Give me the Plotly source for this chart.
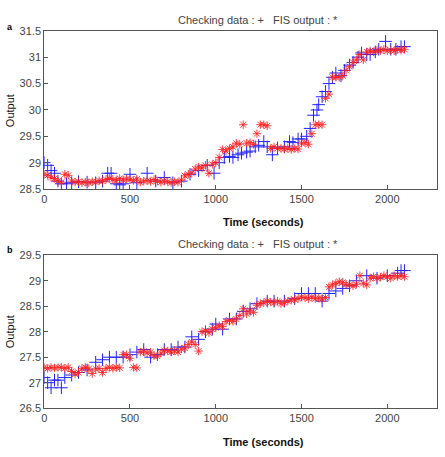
import plotly.graph_objects as go

# ---------------- data ----------------
time_red = list(range(0, 2101, 20))

fis_a = [28.78, 28.76, 28.72, 28.70, 28.65, 28.63, 28.78, 28.76, 28.65, 28.63,
         28.64, 28.62, 28.63, 28.62, 28.64, 28.63, 28.66, 28.65, 28.68, 28.70,
         28.68, 28.66, 28.70, 28.67, 28.69, 28.68, 28.66, 28.69, 28.63, 28.65,
         28.66, 28.64, 28.68, 28.65, 28.63, 28.65, 28.64, 28.62, 28.64, 28.63,
         28.67, 28.75, 28.78, 28.80, 28.88, 28.92, 28.90, 28.95, 28.80, 28.97,
         29.00, 29.10, 29.25, 29.22, 29.27, 29.30, 29.37, 29.35, 29.72, 29.37,
         29.38, 29.35, 29.55, 29.72, 29.72, 29.70, 29.27, 29.30, 29.27, 29.27,
         29.26, 29.27, 29.25, 29.27, 29.26, 29.37, 29.38, 29.35, 29.55, 29.72,
         29.72, 29.72, 30.22, 30.30, 30.62, 30.62, 30.62, 30.65, 30.75, 30.82,
         30.90, 30.95, 31.05, 30.95, 31.10, 31.12, 31.10, 31.13, 31.12, 31.15,
         31.12, 31.13, 31.12, 31.15, 31.13, 31.15]

fis_b = [27.30, 27.28, 27.30, 27.29, 27.30, 27.30, 27.28, 27.30, 27.22, 27.17,
         27.20, 27.28, 27.30, 27.27, 27.18, 27.27, 27.28, 27.20, 27.28, 27.30,
         27.28, 27.30, 27.29, 27.55, 27.55, 27.48, 27.30, 27.29, 27.60, 27.62,
         27.58, 27.60, 27.53, 27.52, 27.58, 27.63, 27.62, 27.60, 27.63, 27.60,
         27.66, 27.68, 27.75, 27.80, 27.75, 27.62, 28.00, 28.02, 27.98, 28.05,
         28.08, 28.12, 28.10, 28.20, 28.22, 28.20, 28.25, 28.32, 28.45, 28.35,
         28.42, 28.38, 28.52, 28.55, 28.57, 28.60, 28.58, 28.57, 28.60, 28.55,
         28.57, 28.60, 28.62, 28.63, 28.65, 28.68, 28.67, 28.65, 28.68, 28.65,
         28.66, 28.64, 28.67, 28.88, 28.92, 28.95, 28.98, 28.97, 28.93, 28.92,
         28.90, 28.93, 29.10, 28.95, 28.92, 29.05, 29.08, 29.05, 29.07, 29.10,
         29.08, 29.05, 29.10, 29.08, 29.10, 29.08]

time_chk_a = [0, 20, 40, 60, 80, 100, 130, 160, 200, 250, 300, 340, 370, 390,
              420, 440, 460, 500, 540, 600, 650, 700, 750, 800, 850, 900, 950,
              990, 1020, 1050, 1080, 1100, 1130, 1150, 1180, 1200, 1230, 1250,
              1280, 1300, 1330, 1360, 1400, 1430, 1450, 1480, 1500, 1530, 1550,
              1570, 1590, 1600, 1620, 1640, 1660, 1680, 1700, 1730, 1750, 1780,
              1800, 1830, 1850, 1880, 1900, 1930, 1950, 1990, 2020, 2050, 2080, 2100]
chk_a = [29.00, 28.95, 28.85, 28.80, 28.65, 28.60, 28.60, 28.62, 28.64, 28.63,
         28.62, 28.65, 28.80, 28.80, 28.60, 28.58, 28.60, 28.78, 28.62, 28.80,
         28.65, 28.72, 28.62, 28.65, 28.78, 28.85, 28.95, 28.80, 29.00, 29.10,
         29.12, 29.10, 29.15, 29.18, 29.20, 29.22, 29.30, 29.33, 29.40, 29.30,
         29.15, 29.28, 29.30, 29.40, 29.38, 29.45, 29.45, 29.50, 29.65, 29.90,
         30.00, 30.10, 30.25, 30.35, 30.50, 30.62, 30.70, 30.65, 30.75, 30.85,
         30.90, 31.00, 31.08, 31.05, 31.05, 31.10, 31.15, 31.30, 31.15, 31.15,
         31.20, 31.20]

time_chk_b = [0, 20, 40, 60, 80, 100, 120, 160, 200, 250, 300, 340, 380, 420,
              460, 500, 540, 580, 620, 660, 700, 740, 780, 820, 860, 900, 940,
              980, 1000, 1040, 1080, 1120, 1160, 1200, 1240, 1300, 1340, 1400,
              1460, 1500, 1540, 1580, 1620, 1660, 1700, 1740, 1780, 1820, 1880,
              1940, 2000, 2060, 2080, 2100]
chk_b = [27.10, 27.00, 26.90, 27.05, 27.05, 26.90, 27.10, 27.15, 27.20, 27.25,
         27.40, 27.45, 27.50, 27.50, 27.50, 27.55, 27.60, 27.65, 27.50, 27.55,
         27.65, 27.65, 27.70, 27.70, 27.90, 27.85, 28.00, 28.05, 28.15, 28.05,
         28.25, 28.25, 28.40, 28.45, 28.55, 28.60, 28.60, 28.60, 28.65, 28.75,
         28.75, 28.75, 28.60, 28.75, 28.80, 28.85, 28.90, 29.00, 29.10, 29.05,
         29.10, 29.15, 29.20, 29.20]

title_text = "Checking data : +   FIS output : *"

# ---------------- figure ----------------
W, H = 445, 457
fig = go.Figure()

def px_x(p):
    return p / W

def px_y(p):
    return 1 - p / H

blue_marker = dict(symbol="cross-thin-open", size=9, color="#2222ff",
                   line=dict(color="#2222ff", width=1.0))
red_marker = dict(symbol="asterisk-open", size=7, color="#ff2020",
                  line=dict(color="#ff2020", width=0.85))

fig.add_trace(go.Scatter(x=time_chk_a, y=chk_a, mode="markers", marker=blue_marker,
                         xaxis="x", yaxis="y", showlegend=False))
fig.add_trace(go.Scatter(x=time_red, y=fis_a, mode="markers", marker=red_marker,
                         xaxis="x", yaxis="y", showlegend=False))
fig.add_trace(go.Scatter(x=time_chk_b, y=chk_b, mode="markers", marker=blue_marker,
                         xaxis="x2", yaxis="y2", showlegend=False))
fig.add_trace(go.Scatter(x=time_red, y=fis_b, mode="markers", marker=red_marker,
                         xaxis="x2", yaxis="y2", showlegend=False))

xdom = [px_x(41.5), px_x(437)]
tickfont = dict(family="Liberation Sans, Arial, sans-serif", size=11, color="#444444")
common_x = dict(range=[0, 2290], tickvals=[0, 500, 1000, 1500, 2000], ticks="inside",
                ticklen=4, tickcolor="#555555", showline=True, linecolor="#555555",
                linewidth=1, mirror=True, showgrid=False, zeroline=False,
                tickfont=tickfont, domain=xdom)
common_y = dict(dtick=0.5, ticks="inside", ticklen=4, tickcolor="#555555",
                showline=True, linecolor="#555555", linewidth=1, mirror=True,
                showgrid=False, zeroline=False, tickfont=tickfont)

fig.update_layout(
    width=W, height=H,
    margin=dict(l=0, r=0, t=0, b=0),
    paper_bgcolor="white", plot_bgcolor="white",
    xaxis=dict(**common_x, anchor="y"),
    yaxis=dict(**common_y, range=[28.5, 31.5], tick0=28.5,
               domain=[px_y(188), px_y(25.5)], anchor="x"),
    xaxis2=dict(**common_x, anchor="y2"),
    yaxis2=dict(**common_y, range=[26.5, 29.5], tick0=26.5,
                domain=[px_y(413), px_y(256)], anchor="x2"),
    font=dict(family="Liberation Sans, Arial, sans-serif"),
)

ann_font = dict(family="Liberation Sans, Arial, sans-serif", size=11, color="#444444")
label_font = dict(family="Liberation Sans, Arial, sans-serif", size=11, color="#111111")
anns = [
    dict(text=title_text, x=px_x(257), y=px_y(14), font=ann_font),
    dict(text=title_text, x=px_x(257), y=px_y(244), font=ann_font),
    dict(text="<b>Time (seconds)</b>", x=px_x(262), y=px_y(222), font=label_font),
    dict(text="<b>Time (seconds)</b>", x=px_x(262), y=px_y(448), font=label_font),
    dict(text="Output", x=px_x(7), y=px_y(107), font=label_font, textangle=-90),
    dict(text="Output", x=px_x(7), y=px_y(334), font=label_font, textangle=-90),
    dict(text="<b>a</b>", x=px_x(7), y=px_y(22), font=dict(size=9, color="#000000",
         family="Liberation Sans, Arial, sans-serif")),
    dict(text="<b>b</b>", x=px_x(7), y=px_y(251), font=dict(size=9, color="#000000",
         family="Liberation Sans, Arial, sans-serif")),
]
for a in anns:
    fig.add_annotation(xref="paper", yref="paper", showarrow=False,
                       xanchor="center", yanchor="middle", **a)

fig.write_html("out.html")
